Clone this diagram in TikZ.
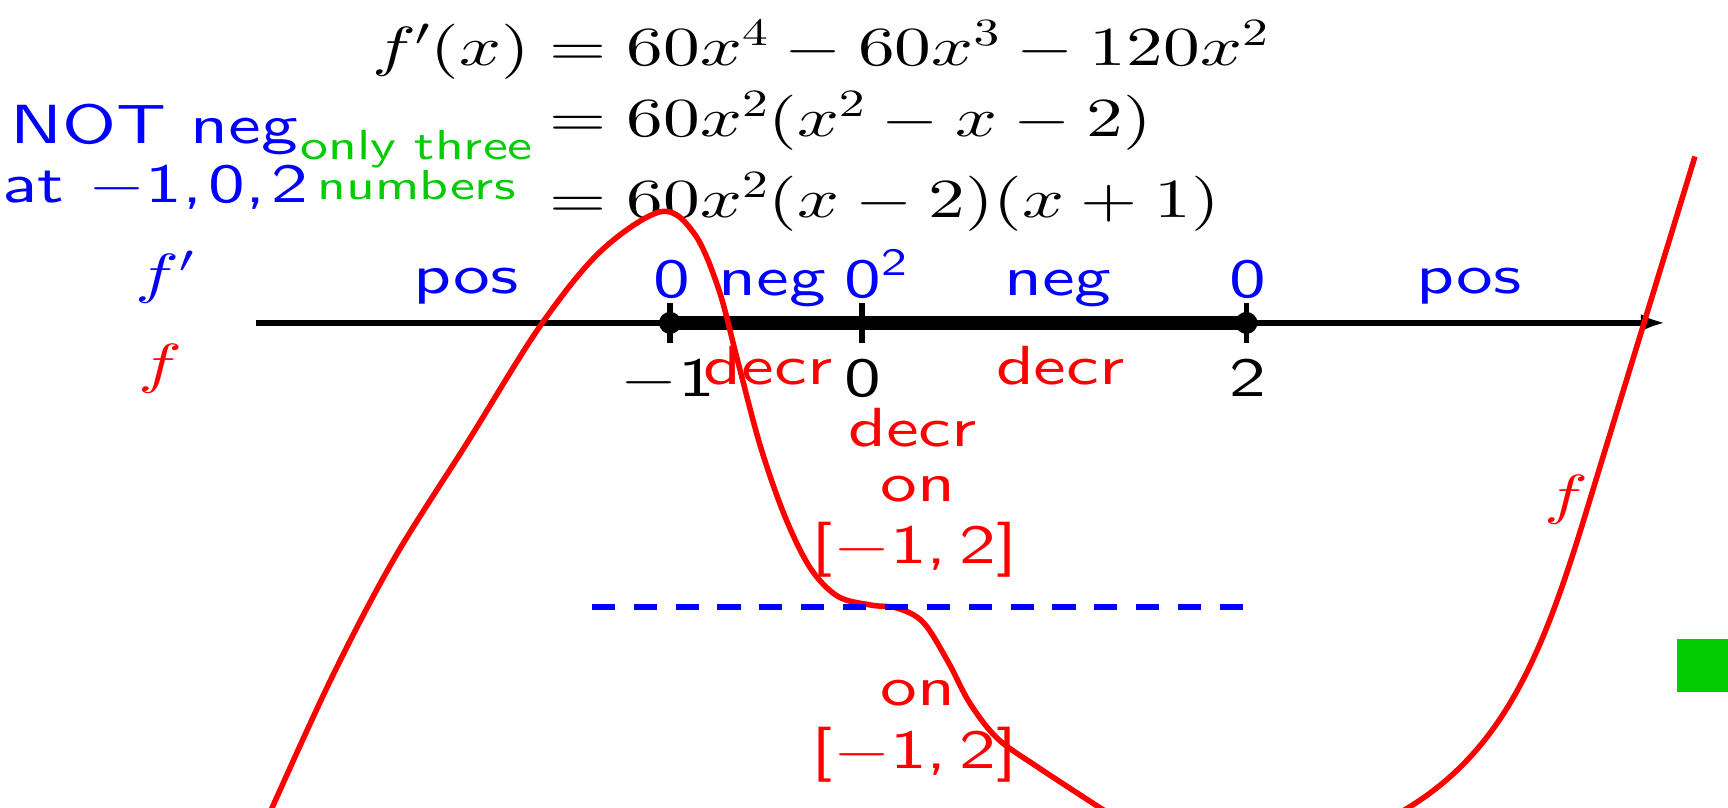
\documentclass[tikz,border=0pt]{standalone}
\usepackage[no-math]{fontspec}
\setsansfont{lmsans10-regular.otf}
\DeclareFontShape{OML}{cmm}{m}{it}{<->cmmi10}{}
\DeclareFontShape{OMS}{cmsy}{m}{n}{<->cmsy10}{}
\DeclareFontShape{OMX}{cmex}{m}{n}{<->cmex10}{}
\DeclareFontShape{OT1}{cmr}{m}{n}{<->cmr10}{}
\DeclareMathSizes{50}{50}{35}{25}
\usepackage{graphicx}
\usetikzlibrary{arrows.meta}
\definecolor{pblue}{RGB}{0,0,255}
\definecolor{pred}{RGB}{255,0,0}
\definecolor{pgreen}{RGB}{0,204,0}
\newcommand{\hs}[1]{\scalebox{1.333}[1]{#1}}
\newcommand{\supsf}[1]{\rlap{\raisebox{20pt}{\fontsize{35}{40}\selectfont #1}}}
\tikzset{
  lbl/.style={inner sep=0pt, anchor=base, font=\fontsize{50}{60}\selectfont},
  sflbl/.style={lbl, font=\fontsize{50}{60}\selectfont\sffamily},
  smlbl/.style={inner sep=0pt, anchor=base, font=\fontsize{38}{45}\selectfont\sffamily},
  tickmark/.style={line width=5pt},
  axisline/.style={line width=5pt},
  curve/.style={pred, line width=5pt, line join=round},
}
\begin{document}
\begin{tikzpicture}[x=1pt,y=-1pt]
\useasboundingbox (0,0) rectangle (1568,733);
% equation
\node[lbl, anchor=base east] (lhs) at (481,59) {\hs{$f'(x)$}};
\node[lbl, anchor=base west] (eq1) at (498,59) {\hs{$=60x^4-60x^3-120x^2$}};
\node[lbl, anchor=base west] (eq2) at (498,124) {\hs{$=60x^2(x^2-x-2)$}};
\node[lbl, anchor=base west] (eq3) at (498,197) {\hs{$=60x^2(x-2)(x+1)$}};
% side notes
\node[sflbl, pblue] (notneg) at (140,130) {\hs{NOT neg}};
\node[sflbl, pblue] (atpts) at (141,184) {\hs{at $-$1,\hspace{0.08em}0,\hspace{0.08em}2}};
\node[smlbl, pgreen] (only) at (378,145) {\hs{only three}};
\node[smlbl, pgreen] (numbers) at (378,181) {\hs{numbers}};
\node[lbl, pblue] (fpl) at (150,265) {\hs{$f'$}};
\node[lbl, pred] (fl) at (146,347) {\hs{$f$}};
% axis
\coordinate (axL) at (232,293);
\coordinate (axR) at (1511,293);
\coordinate (m1) at (608,293);
\coordinate (z) at (782,293);
\coordinate (two) at (1131,293);
\draw[axisline, -{Latex[length=22pt,width=16pt]}] (axL) -- (axR);
\draw[line width=13pt] (m1) -- (two);
\draw[tickmark] ([yshift=18pt]m1) -- ([yshift=-18pt]m1);
\draw[tickmark] ([yshift=18pt]z) -- ([yshift=-18pt]z);
\draw[tickmark] ([yshift=18pt]two) -- ([yshift=-18pt]two);
\fill (m1) circle[radius=10];
\fill (two) circle[radius=10];
% curve
\begin{scope}
\clip (0,0) rectangle (1568,733);
\draw[curve] plot[smooth, tension=0.55] coordinates {
(242,744) (300,617) (357,508) (425,400) (490,296) (545,228) (600,192) (630,212) (652,262) (670,330) (690,405) (712,468) (735,515) (760,541) (790,549) (815,552) (838,565) (860,600) (880,638) (905,670) (940,695) (1012,742)};
\coordinate (rb0) at (1262,742);
\coordinate (rb1) at (1437,472);
\coordinate (rb2) at (1538,142);
\draw[curve] (rb0) .. controls (1360,690) and (1397,602) .. (rb1) -- (rb2);
\end{scope}
% dashed level line
\coordinate (dL) at (537,551);
\coordinate (dR) at (1130,551);
\draw[pblue, line width=5.5pt, dash pattern=on 21pt off 17pt] (dL) -- (dR);
% labels above axis
\node[sflbl, pblue] (pos1) at (423,266) {\hs{pos}};
\node[sflbl, pblue] (zm1) at (610,270) {\hs{0}};
\node[sflbl, pblue] (neg1) at (701,268) {\hs{neg}};
\node[sflbl, pblue] (zz) at (783,270) {\hs{0\supsf{2}}};
\node[sflbl, pblue] (neg2) at (960,268) {\hs{neg}};
\node[sflbl, pblue] (ztwo) at (1132,270) {\hs{0}};
\node[sflbl, pblue] (pos2) at (1333,266) {\hs{pos}};
% tick labels
\node[sflbl] (tm1) at (606,360) {\hs{$-$1}};
\node[sflbl] (t0) at (783,360) {\hs{0}};
\node[sflbl] (t2) at (1132,360) {\hs{2}};
% red labels
\node[sflbl, pred] (decr1) at (697,349) {\hs{decr}};
\node[sflbl, pred] (decr2) at (962,349) {\hs{decr}};
\node[sflbl, pred] (decr3) at (828,405) {\hs{decr}};
\node[sflbl, pred] (on1) at (833,455) {\hs{on}};
\node[sflbl, pred] (int1) at (830,511) {\hs{[$-$1,\,2]}};
\node[sflbl, pred] (on2) at (833,640) {\hs{on}};
\node[sflbl, pred] (int2) at (830,697) {\hs{[$-$1,\,2]}};
\node[lbl, pred] (fr) at (1421,466) {\hs{$f$}};
% green square
\fill[pgreen] (1522,580) rectangle (1568,628);
\end{tikzpicture}
\end{document}
